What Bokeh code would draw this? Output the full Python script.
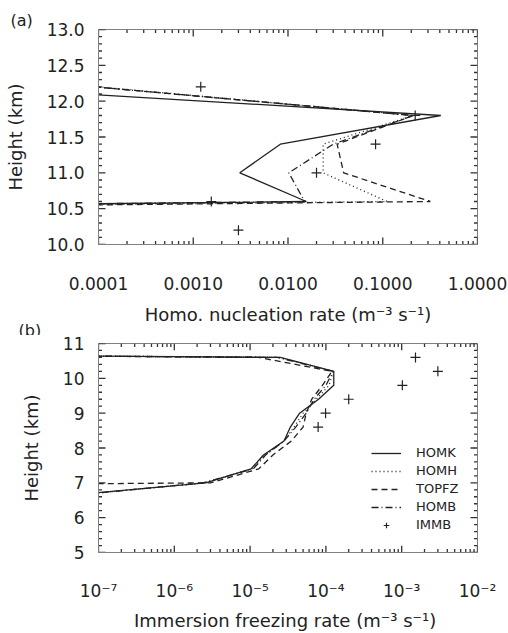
import math
from bokeh.plotting import figure
from bokeh.layouts import column
from bokeh.models import (FixedTicker, CustomJSTickFormatter,
                          PrintfTickFormatter, Legend, LegendItem, Range1d, Title)
from bokeh.embed import file_html
from bokeh.resources import INLINE

# ---------------- data: panel (a) homogeneous nucleation ----------------
heights_a = [12.2, 11.8, 11.4, 11.0, 10.6, 10.2]
homk_a = [4e-6, 0.41, 0.0083, 0.0031, 0.0156, 1e-30]
homh_a = [1.0e-4, 0.21, 0.0235, 0.0235, 0.111, 1e-30]
topfz_a = [9e-5, 0.21, 0.033, 0.0387, 0.318, 1e-30]
homb_a = [9e-5, 0.21, 0.030, 0.0102, 0.0150, 1e-30]
immb_a = [0.0012, 0.22, 0.084, 0.020, 0.00155, 0.0030]
xticks_a = [1e-4, 1e-3, 1e-2, 1e-1, 1.0]
xlabels_a = ["0.0001", "0.0010", "0.0100", "0.1000", "1.0000"]
yticks_a = [10.0, 10.5, 11.0, 11.5, 12.0, 12.5, 13.0]

# ---------------- data: panel (b) immersion freezing ----------------
heights_b = [11.0, 10.6, 10.2, 9.8, 9.4, 9.0, 8.6, 8.2, 7.8, 7.4, 7.0, 6.6]
homk_b = [1e-30, 2.5e-5, 1.27e-4, 1.27e-4, 8.0e-5, 4.5e-5, 3.4e-5, 2.8e-5, 1.5e-5, 1.03e-5, 2.6e-6, 2.5e-8]
homh_b = [1e-30, 2.4e-5, 1.25e-4, 1.1e-4, 7.5e-5, 5.0e-5, 3.8e-5, 2.8e-5, 1.6e-5, 1.05e-5, 2.5e-6, 3e-8]
topfz_b = [1e-30, 1.3e-5, 1.2e-4, 9.0e-5, 6.5e-5, 5.5e-5, 5.0e-5, 3.5e-5, 2.0e-5, 1.3e-5, 3.0e-6, 1e-30]
homb_b = [1e-30, 2.3e-5, 1.25e-4, 1.0e-4, 7.0e-5, 5.5e-5, 4.0e-5, 2.8e-5, 1.6e-5, 1.1e-5, 2.4e-6, 3e-8]
immb_heights_b = [10.6, 10.2, 9.8, 9.4, 9.0, 8.6]
immb_b = [1.52e-3, 3.0e-3, 1.02e-3, 2.0e-4, 9.9e-5, 7.9e-5]
xticks_b = [1e-7, 1e-6, 1e-5, 1e-4, 1e-3, 1e-2]
xlabels_b = ["10\u207b\u2077", "10\u207b\u2076", "10\u207b\u2075", "10\u207b\u2074", "10\u207b\u00b3", "10\u207b\u00b2"]
yticks_b = [5, 6, 7, 8, 9, 10, 11]

series_names = ["HOMK", "HOMH", "TOPFZ", "HOMB", "IMMB"]
dashes = ["solid", "1 3", "6 4", "7 3 1 3"]

FONT = "DejaVu Sans"
INK = "#222222"
FRAME = "#808080"
TICK = "#333333"
W, BL, BR = 508, 98, 31
FW, FH = 379, 215


def minor_log(major):
    out = []
    for t in major[:-1]:
        for k in range(2, 10):
            out.append(k * t)
    return out


def minor_lin(major, n):
    out = []
    for a, b in zip(major[:-1], major[1:]):
        for k in range(1, n):
            out.append(a + (b - a) * k / n)
    return out


def draw_ticks(p, xr, yr, xmaj, ymaj, xmin, ymin):
    # inward ticks on all four sides; pixel lengths converted to data units
    per_px_x = (math.log10(xr[1]) - math.log10(xr[0])) / FW
    per_px_y = (yr[1] - yr[0]) / FH
    for vals, L in ((xmaj, 7), (xmin, 3.5)):
        n = len(vals)
        dy = L * per_px_y
        p.segment(x0=list(vals), y0=[yr[0]] * n, x1=list(vals), y1=[yr[0] + dy] * n,
                  line_color=TICK, line_width=1.3)
        p.segment(x0=list(vals), y0=[yr[1]] * n, x1=list(vals), y1=[yr[1] - dy] * n,
                  line_color=TICK, line_width=1.3)
    for vals, L in ((ymaj, 7), (ymin, 3.5)):
        n = len(vals)
        f = 10 ** (L * per_px_x)
        p.segment(x0=[xr[0]] * n, y0=list(vals), x1=[xr[0] * f] * n, y1=list(vals),
                  line_color=TICK, line_width=1.3)
        p.segment(x0=[xr[1]] * n, y0=list(vals), x1=[xr[1] / f] * n, y1=list(vals),
                  line_color=TICK, line_width=1.3)


def style_axis(ax):
    ax.axis_line_color = FRAME
    ax.major_tick_line_color = None
    ax.minor_tick_line_color = None
    ax.major_label_text_font = FONT
    ax.major_label_text_font_size = "17px"
    ax.major_label_text_color = INK
    ax.axis_label_text_font = FONT
    ax.axis_label_text_font_size = "18px"
    ax.axis_label_text_font_style = "normal"
    ax.axis_label_text_color = INK


def make_panel(height, border_top, border_bottom, xr, yr, xticks, xlabels, yticks, nminor_y,
               yformat, xtitle, ytitle, xstand, xtstand):
    p = figure(width=W, height=height, x_axis_type="log",
               x_range=Range1d(*xr), y_range=Range1d(*yr),
               output_backend="svg", toolbar_location=None,
               min_border_left=BL, min_border_right=BR,
               min_border_top=border_top, min_border_bottom=border_bottom)
    p.xgrid.visible = False
    p.ygrid.visible = False
    p.outline_line_color = FRAME

    lo = round(math.log10(xticks[0]))
    fmt = CustomJSTickFormatter(args=dict(labels=xlabels, lo=lo),
                                code="return labels[Math.round(Math.log10(tick)) - lo];")
    bx = p.xaxis[0]
    bx.ticker = FixedTicker(ticks=xticks)
    bx.formatter = fmt
    bx.axis_label = xtitle
    style_axis(bx)
    bx.major_label_standoff = xstand
    bx.axis_label_standoff = xtstand

    ly = p.yaxis[0]
    ly.ticker = FixedTicker(ticks=yticks)
    ly.formatter = PrintfTickFormatter(format=yformat)
    ly.axis_label = ytitle
    style_axis(ly)
    ly.major_label_standoff = 8
    ly.axis_label_standoff = 18

    draw_ticks(p, xr, yr, xticks, yticks, minor_log(xticks), minor_lin(yticks, nminor_y))
    return p


def tag(text, offset, standoff):
    kw = dict(text=text, align="left", offset=offset,
              text_font=FONT, text_font_size="16px", text_font_style="normal",
              text_color=INK)
    try:
        return Title(standoff=standoff, **kw)
    except Exception:
        return Title(standoff=0, **kw)


# ---------------- panel (a) ----------------
pa = make_panel(335, 29, 91, (1e-4, 1.0), (10.0, 13.0), xticks_a, xlabels_a, yticks_a, 5,
                "%.1f", "Homo. nucleation rate (m\u207b\u00b3 s\u207b\u00b9)", "Height (km)",
                26, 11)
pa.title = tag("(a)", -88, 0)
for vals, dash in zip([homk_a, homh_a, topfz_a, homb_a], dashes):
    pa.line(vals, heights_a, line_color=INK, line_width=1.3, line_dash=dash)
pa.scatter(immb_a, heights_a, marker="cross", size=10, line_color=INK, line_width=1.2)
pa.add_layout(tag("(b)", -80, -24), "below")

# ---------------- panel (b) ----------------
pb = make_panel(298, 8, 75, (1e-7, 1e-2), (5.0, 11.0), xticks_b, xlabels_b, yticks_b, 5,
                "%d", "Immersion freezing rate  (m\u207b\u00b3 s\u207b\u00b9)", "Height (km)",
                22, 6)
renderers = []
for vals, dash in zip([homk_b, homh_b, topfz_b, homb_b], dashes):
    renderers.append(pb.line(vals, heights_b, line_color=INK, line_width=1.3, line_dash=dash))
renderers.append(pb.scatter(immb_b, immb_heights_b, marker="cross", size=10,
                            line_color=INK, line_width=1.2))
items = [LegendItem(label=n, renderers=[r]) for n, r in zip(series_names, renderers)]
leg = Legend(items=items, location=(273, 20), padding=0, margin=0, spacing=3,
             glyph_width=30, glyph_height=14, label_height=14, label_standoff=15,
             label_text_font=FONT, label_text_font_size="13px", label_text_color=INK,
             background_fill_alpha=0, border_line_alpha=0)
pb.add_layout(leg)

layout = column(pa, pb, spacing=0)
open("out.html", "w").write(file_html(layout, INLINE))
